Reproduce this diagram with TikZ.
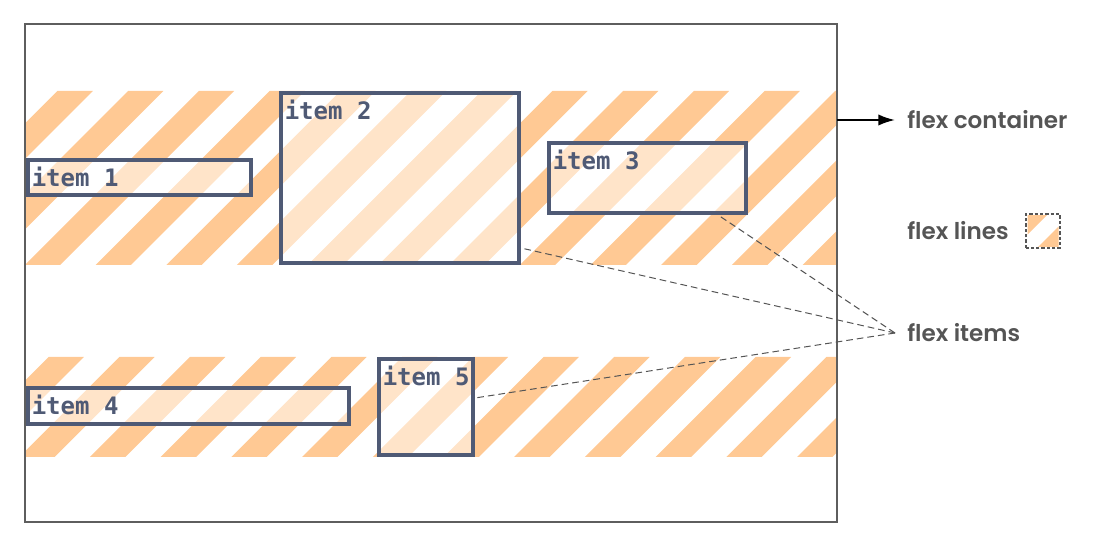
\documentclass[tikz,border=0pt]{standalone}
\usepackage{fontspec}
\usetikzlibrary{arrows.meta,calc}
\newfontfamily\itemfont{DejaVu Sans Mono}
\newfontfamily\lblfont{Poppins}[BoldFont={Poppins SemiBold}]
\definecolor{stripeC}{HTML}{FFC994}
\definecolor{itemC}{HTML}{4F5A75}
\definecolor{lblC}{HTML}{555555}
\definecolor{frameC}{HTML}{5E5E5E}
\tikzset{
  px/.style={x=0.75pt,y=-0.75pt},
  stripe/.style={fill=stripeC},
  itembox/.style={draw=itemC, line width=3pt, fill=white, fill opacity=0.5, draw opacity=1, inner sep=0pt, outer sep=0pt},
  itemlabel/.style={text=itemC, font=\itemfont\bfseries\fontsize{18}{20}\selectfont, inner sep=0pt, anchor=base west},
  legendlabel/.style={text=lblC, font=\lblfont\bfseries\fontsize{17.3}{20}\selectfont, inner sep=0pt, anchor=west},
  leader/.style={draw=lblC, line width=0.75pt, dash pattern=on 5pt off 3pt},
  frame/.style={draw=frameC, line width=0.9pt, inner sep=0pt, outer sep=0pt}
}
\begin{document}
\begin{tikzpicture}[px]
\useasboundingbox (0,0) rectangle (1114,548);
% flex container
\node[frame, minimum width={812*0.75pt}, minimum height={498*0.75pt}] (cont) at (431,273) {};
% flex line 1
\begin{scope}
  \clip (25,91) rectangle (837,265);
  \foreach \k in {0,...,16}{
    \pgfmathsetmacro\c{7+\k*70.71}
    \fill[stripe] ({\c-91},91) -- ({\c+35.35-91},91) -- ({\c+35.35-265},265) -- ({\c-265},265) -- cycle;
  }
\end{scope}
% flex line 2
\begin{scope}
  \clip (25,357) rectangle (837,457);
  \foreach \k in {3,...,19}{
    \pgfmathsetmacro\c{52+\k*70.71}
    \fill[stripe] ({\c-357},357) -- ({\c+35.35-357},357) -- ({\c+35.35-457},457) -- ({\c-457},457) -- cycle;
  }
\end{scope}
\node[frame, minimum width={812*0.75pt}, minimum height={498*0.75pt}] at (cont.center) {};
% items
\node[itembox, minimum width={223*0.75pt}, minimum height={35*0.75pt}] (i1) at (139.5,177.5) {};
\node[itembox, minimum width={238*0.75pt}, minimum height={170*0.75pt}] (i2) at (400,178) {};
\node[itembox, minimum width={197*0.75pt}, minimum height={70*0.75pt}] (i3) at (647.5,178) {};
\node[itembox, minimum width={321*0.75pt}, minimum height={36*0.75pt}] (i4) at (188.5,406) {};
\node[itembox, minimum width={94*0.75pt}, minimum height={96*0.75pt}] (i5) at (426,407) {};
\node[itemlabel] (t1) at ($(i1.north west)+(3.5,27)$) {item 1};
\node[itemlabel] (t2) at ($(i2.north west)+(3.5,27)$) {item 2};
\node[itemlabel] (t3) at ($(i3.north west)+(3.5,27)$) {item 3};
\node[itemlabel] (t4) at ($(i4.north west)+(3.5,27)$) {item 4};
\node[itemlabel] (t5) at ($(i5.north west)+(3.5,27)$) {item 5};
% legend
\node[legendlabel] (lc) at (907,120) {flex container};
\node[legendlabel] (ll) at (907,231) {flex lines};
\node[legendlabel] (li) at (907,333) {flex items};
\draw[line width=1.5pt, -{Latex[length=12.5pt, width=8.5pt]}] (cont.east |- lc.west) -- ([xshift=-9pt]lc.west);
% swatch
\node[inner sep=0pt, outer sep=0pt, minimum width={34*0.75pt}, minimum height={34*0.75pt}] (sw) at (1043,231) {};
\begin{scope}
  \clip ([shift={(1.5,-1.5)}]sw.south west) rectangle ([shift={(-1.5,1.5)}]sw.north east);
  \fill[stripe] ({1200-214},214) -- ({1262-214},214) -- ({1262-248},248) -- ({1200-248},248) -- cycle;
  \fill[stripe] ({1285-214},214) -- ({1340-214},214) -- ({1340-248},248) -- ({1285-248},248) -- cycle;
\end{scope}
\draw[draw=lblC, line width=0.8pt, dash pattern=on 2.5pt off 1.5pt] (sw.south west) rectangle (sw.north east);
% leaders
\coordinate (hub) at ($(li.west)+(-12,0)$);
\draw[leader] (hub) -- ($(i2.south east)+(2,-15)$);
\draw[leader] (hub) -- ($(i3.south east)+(-28,2)$);
\draw[leader] (hub) -- ($(i5.east)+(2,-9)$);
\end{tikzpicture}
\end{document}
